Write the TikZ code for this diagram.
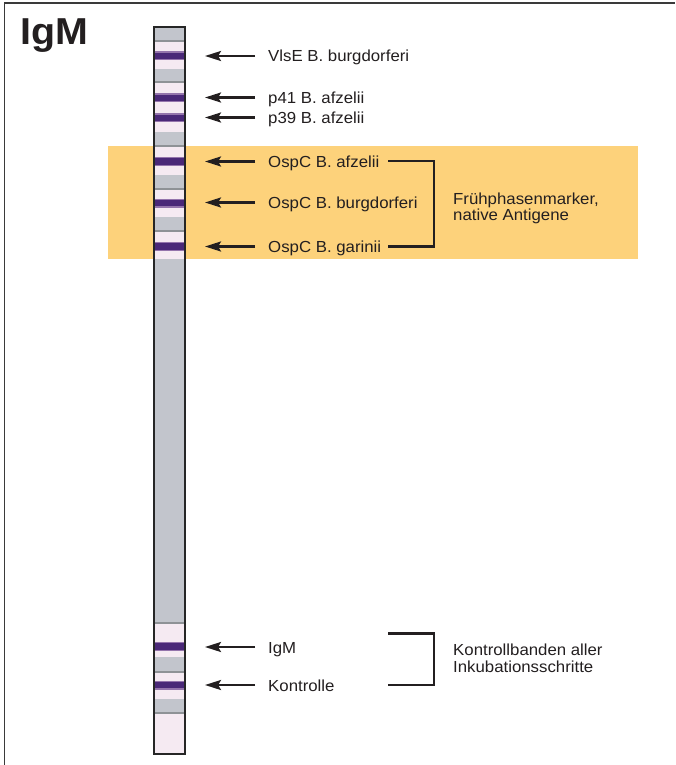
\documentclass[tikz,border=0pt]{standalone}
\usepackage{fontspec}
\setmainfont{Liberation Sans}[FakeStretch=1.05]
\usetikzlibrary{arrows.meta}
\definecolor{orangebg}{HTML}{FDD27B}
\definecolor{stripgray}{HTML}{C2C5CC}
\definecolor{stripline}{HTML}{8E9296}
\definecolor{strippink}{HTML}{F5EAF2}
\definecolor{bandpurple}{HTML}{4A2878}
\definecolor{bandfringe}{HTML}{9474AC}
\definecolor{framegray}{HTML}{3A3A3A}
\definecolor{inkblack}{HTML}{231F20}
\begin{document}
\begin{tikzpicture}[x=1pt,y=-1pt,
  lbl/.style={anchor=base west, inner sep=0pt, text=inkblack, font=\fontsize{16}{16.5}\selectfont},
  twoline/.style={anchor=north west, inner sep=0pt, text=inkblack, align=left, font=\fontsize{16}{16.5}\selectfont},
  arr/.style={draw=inkblack, line width=2.5pt, -{Stealth[length=16pt,width=10pt,inset=3pt]}},
  brk/.style={draw=inkblack, line width=2.5pt, line join=miter},
  band/.style={fill=bandpurple},
  fringe/.style={fill=bandfringe}]
\useasboundingbox (0,0) rectangle (675,765);
\fill[white] (0,0) rectangle (675,765);
% frame
\draw[framegray, line width=1.8pt] (4.5,765) -- (4.5,3) -- (675,3);
% title
\node[anchor=base west, inner sep=0pt, text=inkblack, font=\fontsize{37.5}{40}\selectfont\bfseries] (title) at (20,44.5) {IgM};
% orange highlight
\fill[orangebg] (108,146) rectangle (638,259);
% strip
\fill[strippink] (154,27) rectangle (185,754);
\foreach \a/\b in {27/42, 69/83, 132/146, 175/189, 217/231, 259/623, 657/672, 699/713}{
  \fill[stripgray] (154,\a) rectangle (185,\b);
  \fill[stripline] (154,\b-1.5) rectangle (185,\b+0.5);
}
\foreach \y in {56,98,118,161.5,203,246.5,646.5,685}{
  \fill[fringe] (154,\y-4.5) rectangle (185,\y+4.5);
  \fill[band] (154,\y-3.2) rectangle (185,\y+3.2);
}
\draw[line width=2.8pt, color=black!85] (154,27) rectangle (185,754);
% band points (arrow tips)
\coordinate (b1) at (205,56);
\coordinate (b2) at (205,97.5);
\coordinate (b3) at (205,117.5);
\coordinate (b4) at (205,161.5);
\coordinate (b5) at (205,202.5);
\coordinate (b6) at (205,246.5);
\coordinate (b7) at (205,647);
\coordinate (b8) at (205,685);
% labels
\node[lbl] (vlse) at (268,61.8) {VlsE B. burgdorferi};
\node[lbl] (p41)  at (268,103.5) {p41 B. afzelii};
\node[lbl] (p39)  at (268,123.5) {p39 B. afzelii};
\node[lbl] (ospa) at (268,167) {OspC B. afzelii};
\node[lbl] (ospb) at (268,208) {OspC B. burgdorferi};
\node[lbl] (ospg) at (268,252) {OspC B. garinii};
\node[lbl] (igm)  at (268,653) {IgM};
\node[lbl] (kont) at (268,691) {Kontrolle};
% arrows
\foreach \n/\b in {vlse/b1, p41/b2, p39/b3, ospa/b4, ospb/b5, ospg/b6, igm/b7, kont/b8}{
  \draw[arr] ([xshift=-13pt]\n.west |- \b) -- (\b);
}
% bracket: early phase markers
\coordinate (fa) at (388,161);
\coordinate (fk) at (434,204);
\coordinate (fb) at (388,246.5);
\draw[brk] (fa) -| (fk) |- (fb);
\node[twoline] (frueh) at (453,192.5) {Frühphasenmarker,\\native Antigene};
% bracket: control bands
\coordinate (ka) at (388,633.5);
\coordinate (kk) at (434,660);
\coordinate (kb) at (388,685);
\draw[brk] (ka) -| (kk) |- (kb);
\node[twoline] (kontr) at (453,644) {Kontrollbanden aller\\Inkubationsschritte};
\end{tikzpicture}
\end{document}
